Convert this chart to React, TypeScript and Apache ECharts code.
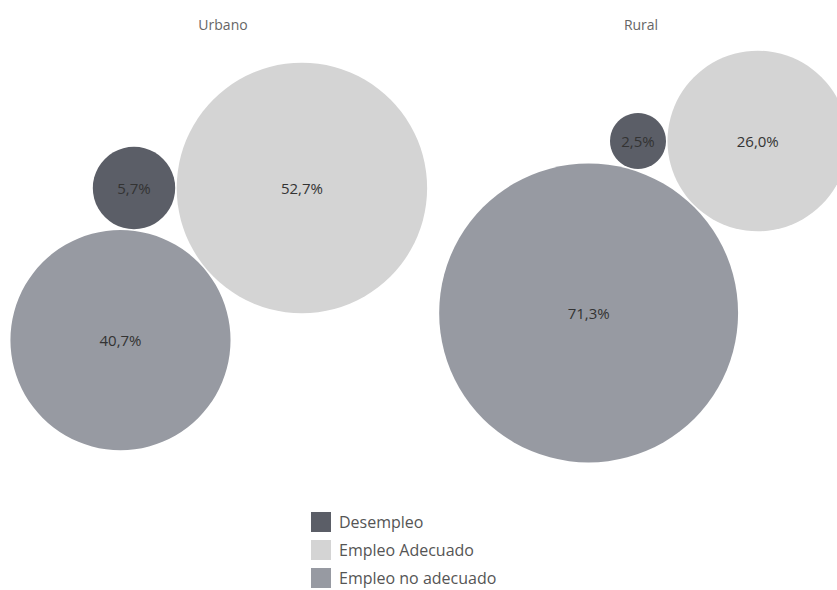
import React, { useEffect, useRef } from "react";
import * as echarts from "echarts";

// ---- data ----
const groups = ["Urbano", "Rural"];
const categories = ["Desempleo", "Empleo Adecuado", "Empleo no adecuado"];
const desempleo = [5.7, 2.5];
const empleoAdecuado = [52.7, 26.0];
const empleoNoAdecuado = [40.7, 71.3];

// ---- layout / style constants ----
const W = 837;
const H = 590;
const K = [17.25, 17.7]; // radius per sqrt(percent), per pane
const GAP = 1.5;
const ANCHORS = [
  [134, 188],
  [638, 141],
];
const TITLE_X = [218, 636];
const COLORS = ["#5b5e67", "#d4d4d4", "#979aa2"];
const FONT = "'Open Sans', 'Noto Sans', sans-serif";

// Pack three mutually tangent circles: first two on one row, third below.
function pack(vals: number[], anchor: number[], k: number) {
  const r = vals.map((v) => k * Math.sqrt(v));
  const dab = r[0] + r[1] + GAP;
  const dac = r[0] + r[2] + GAP;
  const dbc = r[1] + r[2] + GAP;
  const cx = (dac * dac - dbc * dbc + dab * dab) / (2 * dab);
  const cy = Math.sqrt(Math.max(0, dac * dac - cx * cx));
  const [ax, ay] = anchor;
  return [
    [ax, ay, r[0]],
    [ax + dab, ay, r[1]],
    [ax + cx, ay + cy, r[2]],
  ];
}

export default function App() {
  const ref = useRef<HTMLDivElement>(null);
  useEffect(() => {
    document.body.style.margin = "0";
    if (!ref.current) return;
    const chart = echarts.init(ref.current, undefined, { renderer: "svg" });
    const seriesVals = [desempleo, empleoAdecuado, empleoNoAdecuado];
    const packed = groups.map((_, gi) =>
      pack(
        seriesVals.map((s) => s[gi]),
        ANCHORS[gi],
        K[gi]
      )
    );
    const series = categories.map((cat, ci) => ({
      type: "scatter",
      name: cat,
      symbol: "circle",
      itemStyle: { color: COLORS[ci], opacity: 1 },
      label: {
        show: true,
        position: "inside",
        color: "#333",
        fontSize: 15,
        fontFamily: FONT,
        formatter: (p: any) => p.value[2].toFixed(1).replace(".", ",") + "%",
      },
      emphasis: { disabled: true },
      data: groups.map((g, gi) => {
        const [x, y, r] = packed[gi][ci];
        return {
          name: g,
          value: [x, y, seriesVals[ci][gi]],
          symbolSize: 2 * r,
        };
      }),
    }));
    chart.setOption({
      animation: false,
      backgroundColor: "#ffffff",
      title: groups.map((g, gi) => ({
        text: g,
        left: TITLE_X[gi],
        top: 12,
        textAlign: "center",
        textStyle: { fontSize: 14, fontWeight: "normal", color: "#666", fontFamily: FONT },
      })),
      grid: { left: 0, top: 0, right: 0, bottom: 0 },
      xAxis: { type: "value", min: 0, max: W, show: false },
      yAxis: { type: "value", min: 0, max: H, inverse: true, show: false },
      legend: {
        orient: "vertical",
        left: 311,
        top: 512,
        padding: 0,
        height: 78,
        icon: "rect",
        itemWidth: 20,
        itemHeight: 20,
        itemGap: 8,
        textStyle: { fontSize: 16, color: "#555", fontFamily: FONT, padding: [0, 0, 0, 3] },
        data: categories,
        selectedMode: false,
      },
      series,
    });
    return () => chart.dispose();
  }, []);
  return <div ref={ref} style={{ width: W, height: H }} />;
}
